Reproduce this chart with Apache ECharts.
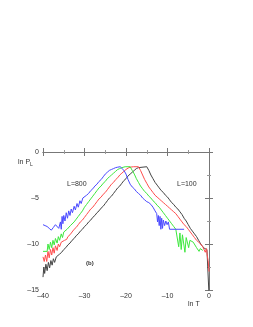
<!DOCTYPE html>
<html><head><meta charset="utf-8">
<script src="https://cdn.jsdelivr.net/npm/echarts@6/dist/echarts.min.js"></script>
<style>html,body{margin:0;padding:0;background:#fff}#c{width:253px;height:327px}</style>
</head><body><div id="c"></div>
<script>
const xTicks = [-40, -30, -20, -10, 0];
const yTicks = [-15, -10, -5, 0];
const labels = ["L=800", "L=100", "(b)"];
const seriesNames = ["L=800", "L=400", "L=200", "L=100"];

const blue = [[-40,-7.9],[-39.5,-8.0],[-39,-8.1],[-38.5,-8.3],[-38,-8.5],[-37.5,-8.2],[-37,-7.9],[-36.6,-8.1],[-36.2,-8.3],[-35.8,-7.6],[-35.6,-8.4],[-35.4,-7.0],[-35.2,-7.8],[-35,-6.9],[-34.7,-7.5],[-34.4,-6.6],[-34.1,-7.2],[-33.8,-6.4],[-33.5,-6.9],[-33.2,-6.2],[-32.9,-6.6],[-32.5,-5.9],[-32.2,-6.3],[-31.8,-5.6],[-31.5,-6.0],[-31.1,-5.3],[-30.8,-5.6],[-30.4,-5.0],[-30,-5.1],[-29.5,-4.7],[-29,-4.5],[-28.5,-4.2],[-28,-4.0],[-27.5,-3.7],[-27,-3.5],[-26.5,-3.2],[-26,-3.0],[-25.5,-2.7],[-25,-2.4],[-24.5,-2.2],[-24,-2.0],[-23.5,-1.9],[-23,-1.8],[-22.5,-1.7],[-22,-1.65],[-21.4,-1.6],[-21,-1.65],[-20.5,-2.0],[-20,-2.4],[-19.5,-3.0],[-19,-3.5],[-18.5,-3.8],[-18,-4.0],[-17.5,-4.3],[-17,-4.5],[-16.5,-4.7],[-16,-5.0],[-15.5,-5.2],[-15,-5.4],[-14.5,-5.5],[-14,-5.7],[-13.5,-6.0],[-13,-6.4],[-12.6,-6.7],[-12.4,-7.6],[-12.2,-6.9],[-12,-8.0],[-11.8,-7.0],[-11.6,-8.4],[-11.4,-7.2],[-11.2,-8.3],[-11,-7.4],[-10.7,-8.0],[-10.4,-7.5],[-10.1,-7.9],[-9.8,-7.6],[-9.5,-8.4],[-9.2,-8.4],[-6,-8.4]];

const green = [[-40,-10.8],[-39,-10.8],[-38.8,-10.0],[-38.5,-10.6],[-38.2,-9.8],[-37.9,-10.4],[-37.6,-9.6],[-37.3,-10.1],[-37,-9.4],[-36.6,-9.9],[-36.3,-9.2],[-36,-9.6],[-35.6,-8.9],[-35.3,-9.3],[-35,-8.7],[-34.6,-8.9],[-34.2,-8.4],[-33.8,-8.5],[-33.4,-8.0],[-33,-7.9],[-32.5,-7.6],[-32,-7.3],[-31.5,-7.0],[-31,-6.7],[-30.5,-6.4],[-30,-6.0],[-29.5,-5.7],[-29,-5.4],[-28.5,-5.1],[-28,-4.8],[-27.5,-4.5],[-27,-4.2],[-26.5,-3.9],[-26,-3.7],[-25.5,-3.4],[-25,-3.2],[-24.5,-2.9],[-24,-2.7],[-23.5,-2.5],[-23,-2.3],[-22.5,-2.1],[-22,-1.9],[-21.5,-1.8],[-21,-1.7],[-20.2,-1.6],[-19,-1.6],[-18.5,-2.0],[-18,-2.4],[-17.5,-2.9],[-17,-3.3],[-16.5,-3.7],[-16,-4.0],[-15.5,-4.3],[-15,-4.5],[-14.5,-4.8],[-14,-5.0],[-13.5,-5.3],[-13,-5.5],[-12.5,-5.8],[-12,-6.0],[-11.5,-6.3],[-11,-6.6],[-10.5,-6.9],[-10,-7.2],[-9.5,-7.5],[-9,-7.8],[-8.5,-8.1],[-8,-8.4],[-7.6,-8.6],[-7.3,-10.3],[-7.0,-8.8],[-6.7,-10.6],[-6.4,-9.0],[-6.1,-9.2],[-5.8,-10.9],[-5.5,-9.3],[-5.2,-9.5],[-4.9,-10.4],[-4.6,-9.6],[-4.2,-9.7],[-3.8,-9.8],[-3.4,-10.0],[-3.0,-10.4],[-2.7,-10.2],[-2.4,-10.8],[-2.1,-10.5],[-1.8,-10.7],[-1.5,-10.7]];

const red = [[-40,-11.4],[-39.7,-11.9],[-39.4,-11.2],[-39.1,-11.9],[-38.8,-10.8],[-38.5,-11.5],[-38.2,-10.6],[-37.9,-11.2],[-37.6,-10.4],[-37.3,-11.0],[-37,-10.2],[-36.6,-10.7],[-36.3,-10.0],[-36,-10.3],[-35.6,-9.8],[-35.2,-10.0],[-34.8,-9.6],[-34.3,-9.5],[-34,-9.2],[-33.5,-9.0],[-33,-8.7],[-32.5,-8.4],[-32,-8.2],[-31.5,-7.9],[-31,-7.6],[-30.5,-7.4],[-30,-7.1],[-29.5,-6.8],[-29,-6.5],[-28.5,-6.2],[-28,-6.0],[-27.5,-5.7],[-27,-5.4],[-26.5,-5.1],[-26,-4.9],[-25.5,-4.6],[-25,-4.4],[-24.5,-4.1],[-24,-3.8],[-23.5,-3.5],[-23,-3.3],[-22.5,-3.0],[-22,-2.8],[-21.5,-2.5],[-21,-2.3],[-20.5,-2.1],[-20,-1.9],[-19.5,-1.75],[-19,-1.65],[-18.2,-1.6],[-17,-1.6],[-16.5,-2.0],[-16,-2.5],[-15.5,-3.0],[-15,-3.4],[-14.5,-3.8],[-14,-4.1],[-13.5,-4.4],[-13,-4.7],[-12.5,-4.9],[-12,-5.1],[-11.5,-5.3],[-11,-5.5],[-10.5,-5.7],[-10,-5.9],[-9.5,-6.1],[-9,-6.3],[-8.5,-6.5],[-8,-6.7],[-7.5,-7.0],[-7,-7.3],[-6.5,-7.6],[-6,-7.9],[-5.5,-8.1],[-5,-8.4],[-4.5,-8.7],[-4,-9.0],[-3.5,-9.3],[-3,-9.6],[-2.5,-9.8],[-2,-10.0],[-1.5,-10.3],[-1.2,-10.2],[-0.9,-10.9],[-0.6,-10.5],[-0.4,-11.3],[-0.2,-11.8],[0,-13.0]];

const black = [[-40,-13.6],[-39.8,-12.5],[-39.6,-13.2],[-39.3,-12.2],[-39,-12.9],[-38.7,-12.0],[-38.4,-12.6],[-38.1,-11.8],[-37.8,-12.3],[-37.5,-11.6],[-37.2,-12.0],[-36.8,-11.4],[-36.4,-11.6],[-36,-11.1],[-35.5,-10.9],[-35,-10.6],[-34.5,-10.4],[-34,-10.1],[-33.5,-9.9],[-33,-9.6],[-32.5,-9.4],[-32,-9.1],[-31.5,-8.9],[-31,-8.6],[-30.5,-8.4],[-30,-8.1],[-29.5,-7.9],[-29,-7.6],[-28.5,-7.4],[-28,-7.1],[-27.5,-6.9],[-27,-6.6],[-26.5,-6.4],[-26,-6.1],[-25.5,-5.9],[-25,-5.6],[-24.5,-5.3],[-24,-5.0],[-23.5,-4.8],[-23,-4.5],[-22.5,-4.2],[-22,-3.9],[-21.5,-3.7],[-21,-3.4],[-20.5,-3.1],[-20,-2.9],[-19.5,-2.6],[-19,-2.4],[-18.5,-2.2],[-18,-2.0],[-17.5,-1.8],[-17,-1.7],[-16.6,-1.6],[-15,-1.6],[-14.5,-2.0],[-14,-2.5],[-13.5,-2.9],[-13,-3.3],[-12.5,-3.6],[-12,-3.9],[-11.5,-4.2],[-11,-4.4],[-10.5,-4.7],[-10,-4.9],[-9.5,-5.2],[-9,-5.5],[-8.5,-5.7],[-8,-6.0],[-7.5,-6.2],[-7,-6.5],[-6.5,-6.8],[-6,-7.2],[-5.5,-7.5],[-5,-7.9],[-4.5,-8.3],[-4,-8.6],[-3.5,-8.9],[-3,-9.2],[-2.5,-9.6],[-2,-10.0],[-1.5,-10.3],[-1,-10.5],[-0.5,-10.6],[-0.1,-10.7],[0,-15.5]];

const dataSets = [blue, green, red, black];
const colors = ["#4a4aff", "#3ee83e", "#ff4d4d", "#444444"];

const chart = echarts.init(document.getElementById('c'), null, {renderer: 'canvas'});
const fam = "Liberation Sans, Arial, sans-serif";
const dash = v => String(v).replace('-', '\u2013');
const axisLine = {show: true, lineStyle: {color: '#777', width: 1}};
const tick = {show: true, inside: true, length: 4, lineStyle: {color: '#777', width: 1}};
const minor = {show: true, splitNumber: 2, length: 2, lineStyle: {color: '#999', width: 1}};

chart.setOption({
  animation: false,
  backgroundColor: '#fff',
  grid: {left: 43, right: 44, top: 152, bottom: 37, containLabel: false},
  xAxis: [
    {type: 'value', min: xTicks[0], max: xTicks[xTicks.length-1], interval: 10, position: 'bottom',
     axisLine, axisTick: tick, minorTick: minor, splitLine: {show: false},
     axisLabel: {fontSize: 7, color: '#333', fontFamily: fam, margin: 3, formatter: dash}},
    {type: 'value', min: xTicks[0], max: xTicks[xTicks.length-1], interval: 10, position: 'top',
     axisLine, axisTick: tick, minorTick: minor, splitLine: {show: false}, axisLabel: {show: false}}
  ],
  yAxis: [
    {type: 'value', min: yTicks[0], max: yTicks[yTicks.length-1], interval: 5, position: 'left',
     axisLine, axisTick: tick, minorTick: minor, splitLine: {show: false},
     axisLabel: {fontSize: 7, color: '#333', fontFamily: fam, margin: 4, formatter: dash}},
    {type: 'value', min: yTicks[0], max: yTicks[yTicks.length-1], interval: 5, position: 'right',
     axisLine, axisTick: tick, minorTick: minor, splitLine: {show: false}, axisLabel: {show: false}}
  ],
  series: dataSets.map((d, i) => ({
    name: seriesNames[i], type: 'line', data: d, showSymbol: false, symbol: 'none',
    clip: true, lineStyle: {color: colors[i], width: 1}, z: 10 - i
  })),
  graphic: [
    {type: 'text', left: 18, top: 159, style: {
      text: '{a|ln P}{b|L}', fill: '#333',
      rich: {a: {fontSize: 7, fontFamily: fam, fill: '#333'}, b: {fontSize: 5, fontFamily: fam, fill: '#333', verticalAlign: 'bottom', padding: [4, 0, 0, 0]}}
    }},
    {type: 'text', left: 188, top: 301, style: {text: 'ln T', fontSize: 7, fontFamily: fam, fill: '#333'}},
    {type: 'text', left: 67, top: 181, style: {text: labels[0], fontSize: 7, fontFamily: fam, fill: '#333'}},
    {type: 'text', left: 177, top: 181, style: {text: labels[1], fontSize: 7, fontFamily: fam, fill: '#333'}},
    {type: 'text', left: 86, top: 260, style: {text: labels[2], fontSize: 6, fontWeight: 'bold', fontFamily: fam, fill: '#333'}}
  ]
});
</script></body></html>
